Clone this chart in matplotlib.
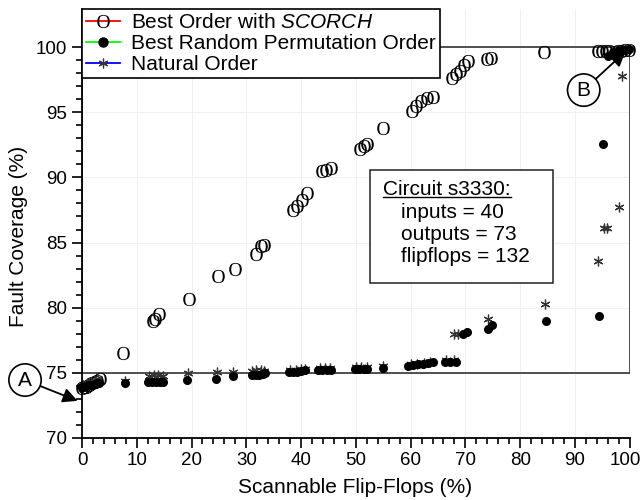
import numpy as np
import matplotlib
matplotlib.use("Agg")
import matplotlib.pyplot as plt
from matplotlib.lines import Line2D
from matplotlib.patches import Rectangle
from matplotlib.ticker import MultipleLocator
from matplotlib.transforms import ScaledTranslation

plt.rcParams['font.family'] = ['Liberation Sans', 'DejaVu Sans']
plt.rcParams['mathtext.fontset'] = 'custom'
plt.rcParams['mathtext.it'] = 'Liberation Sans:italic'
plt.rcParams['mathtext.rm'] = 'Liberation Serif'

# Best order with SCORCH (open "O" markers)
scorch_x = [0.0, 0.4, 0.8, 1.3, 1.8, 2.3, 2.8, 3.3, 7.4, 12.9, 13.4, 14.1, 19.6, 24.9, 27.9,
            31.8, 32.6, 33.2, 38.5, 39.3, 40.1, 41.0, 43.8, 44.6, 45.4, 50.8, 51.4, 52.0,
            55.0, 60.2, 61.0, 61.9, 62.9, 64.0, 67.5, 68.3, 69.0, 69.7, 70.4, 73.9, 74.6,
            84.3, 94.3, 94.9, 95.6, 96.2, 97.8, 98.5, 99.2, 99.8]
scorch_y = [73.8, 73.9, 73.95, 74.1, 74.2, 74.3, 74.4, 74.5, 76.5, 79.0, 79.1, 79.5, 80.7, 82.4, 83.0,
            84.1, 84.7, 84.8, 87.5, 87.8, 88.3, 88.8, 90.5, 90.6, 90.7, 92.2, 92.4, 92.6,
            93.8, 95.1, 95.5, 95.9, 96.1, 96.2, 97.6, 97.9, 98.2, 98.6, 98.9, 99.1, 99.2,
            99.6, 99.7, 99.7, 99.7, 99.7, 99.7, 99.7, 99.75, 99.75]

# Best random permutation order (filled dots)
random_x = [0.0, 0.4, 0.8, 1.3, 1.8, 2.3, 2.8, 3.1, 7.9, 12.1, 12.8, 13.5, 14.2, 14.8, 19.2,
            24.4, 27.5, 31.0, 31.7, 32.4, 33.0, 33.5, 37.8, 38.6, 39.3, 40.0, 40.7, 43.1,
            43.9, 44.7, 45.4, 49.8, 50.6, 51.4, 52.1, 54.9, 59.6, 60.5, 61.4, 62.2, 63.1,
            64.0, 66.2, 67.2, 68.2, 69.6, 70.3, 74.1, 74.9, 84.7, 94.4, 95.2, 96.0, 97.0,
            97.8, 98.5, 99.2, 99.9]
random_y = [73.9, 73.95, 74.0, 74.05, 74.1, 74.15, 74.2, 74.2, 74.2, 74.3, 74.3, 74.3, 74.3, 74.3, 74.45,
            74.55, 74.75, 74.8, 74.8, 74.85, 74.9, 74.95, 75.05, 75.05, 75.1, 75.15, 75.2, 75.2,
            75.2, 75.25, 75.25, 75.3, 75.3, 75.3, 75.3, 75.4, 75.55, 75.6, 75.65, 75.7, 75.75,
            75.85, 75.85, 75.85, 75.85, 77.95, 78.1, 78.4, 78.65, 79.0, 79.4, 92.6, 99.3, 99.6,
            99.7, 99.75, 99.8, 99.85]

# Natural order (asterisks)
natural_x = [0.2, 0.9, 1.6, 2.3, 3.0, 7.9, 12.3, 13.1, 13.9, 14.7, 19.4, 24.6, 27.6, 31.0,
             31.8, 32.6, 33.3, 38.0, 39.0, 40.0, 40.8, 43.4, 44.3, 45.2, 50.0, 51.0, 52.0,
             55.0, 60.0, 61.2, 62.4, 63.5, 66.5, 67.9, 68.0, 68.7, 74.2, 84.6, 94.2, 95.3,
             95.8, 98.1, 98.6, 99.5]
natural_y = [74.1, 74.2, 74.3, 74.4, 74.5, 74.35, 74.75, 74.8, 74.8, 74.75, 75.0, 75.05, 75.1, 75.15,
             75.2, 75.2, 75.15, 75.2, 75.25, 75.3, 75.3, 75.35, 75.35, 75.35, 75.45, 75.45, 75.45,
             75.5, 75.7, 75.7, 75.75, 75.85, 76.0, 76.0, 78.0, 78.0, 79.1, 80.3, 83.6, 86.1,
             86.1, 87.7, 97.8, 99.8]

labels = ['Best Order with $\\mathit{SCORCH}$', 'Best Random Permutation Order', 'Natural Order']
circuit_info = ['inputs = 40', 'outputs = 73', 'flipflops = 132']

O_MARK = r'$\mathrm{O}$'
STAR_MARK = (6, 2, 0)
FS = 15

fig = plt.figure(figsize=(6.44, 5.0), dpi=100)
ax = fig.add_axes([82 / 644, 1 - 438 / 500, 547.7 / 644, 428.7 / 500])

ax.plot(scorch_x, scorch_y, ls='none', marker=O_MARK, ms=9.5, mfc='black', mec='black',
        mew=0, clip_on=False, zorder=3)
ax.plot(natural_x, natural_y, ls='none', marker=STAR_MARK, ms=7, mec='#333333', mew=0.9,
        clip_on=False, zorder=4)
ax.plot(random_x, random_y, ls='none', marker='o', ms=6.5, mfc='black', mec='black',
        mew=0, clip_on=False, zorder=5)

# 75..100 box
ax.add_patch(Rectangle((0, 75), 100, 25, fill=False, ec='#222222', lw=1.1, zorder=2))

ax.set_xlim(0, 100)
ax.set_ylim(70, 102.9)
ax.set_xticks(np.arange(0, 101, 10))
ax.set_yticks(np.arange(70, 101, 5))
ax.xaxis.set_minor_locator(MultipleLocator(2))
ax.set_yticks(np.arange(70, 101, 1), minor=True)
ax.tick_params(which='major', direction='out', length=7, width=1.2, labelsize=13.5)
ax.tick_params(which='minor', direction='out', length=4, width=1.2)
ax.tick_params(axis='x', pad=3)
for s in ['top', 'right']:
    ax.spines[s].set_visible(False)
for s in ['left', 'bottom']:
    ax.spines[s].set_linewidth(1.3)
ax.grid(True, which='major', color='#f0f0f0', lw=0.8)
ax.set_axisbelow(True)

ax.set_xlabel('Scannable Flip-Flops (%)', fontsize=FS)
ax.set_ylabel('Fault Coverage (%)', fontsize=FS)
ax.xaxis.set_label_coords(0.498, -0.093)
ax.yaxis.set_label_coords(-0.099, 0.47)

handles = [
    Line2D([], [], color='red', lw=1.3, marker=O_MARK, ms=9.5, mfc='black', mec='black', mew=0),
    Line2D([], [], color='#00ff00', lw=1.3, marker='o', ms=6.5, mfc='black', mec='black'),
    Line2D([], [], color='blue', lw=1.3, marker=STAR_MARK, ms=7, mec='#333333', mew=0.9),
]
leg = ax.legend(handles, labels, loc='upper left', bbox_to_anchor=(0, 1), borderaxespad=0,
                fontsize=FS, handlelength=1.6, handletextpad=0.55, labelspacing=0.08,
                borderpad=0.2, fancybox=False, framealpha=1, edgecolor='black')
leg.get_frame().set_linewidth(1.2)
leg.set_zorder(10)

# circuit info box
ax.add_patch(Rectangle((52.6, 81.9), 33.4, 8.7, fc='white', ec='#222222', lw=1.1, zorder=6))
title = ax.text(55.0, 89.05, 'Circuit s3330:', fontsize=FS, va='center', ha='left', zorder=7)
for i, line in enumerate(circuit_info):
    ax.text(58.3, 87.3 - 1.7 * i, line, fontsize=FS, va='center', ha='left', zorder=7)

fig.canvas.draw()
bb = title.get_window_extent().transformed(fig.transFigure.inverted())
fig.add_artist(Line2D([bb.x0, bb.x1], [bb.y0 + 0.005, bb.y0 + 0.005], color='black', lw=1.0))

# pull the "100" label a little left so it stays inside the figure
last = ax.xaxis.get_major_ticks()[-1].label1
last.set_transform(last.get_transform() + ScaledTranslation(-3 / 72, 0, fig.dpi_scale_trans))

# A and B callouts
circ = dict(boxstyle='circle,pad=0.32', fc='white', ec='black', lw=1.2)
arrow = dict(arrowstyle='-|>', color='black', lw=1.3, mutation_scale=22, shrinkA=0, shrinkB=0)
ax.annotate('A', xy=(-0.8, 72.85), xytext=(-10.4, 74.45), fontsize=FS, ha='center', va='center',
            bbox=circ, arrowprops=arrow, annotation_clip=False, zorder=8)
ax.annotate('B', xy=(99.2, 99.65), xytext=(91.6, 96.7), fontsize=FS, ha='center', va='center',
            bbox=circ, arrowprops=arrow, annotation_clip=False, zorder=8)

fig.savefig('out.png', dpi=100)
